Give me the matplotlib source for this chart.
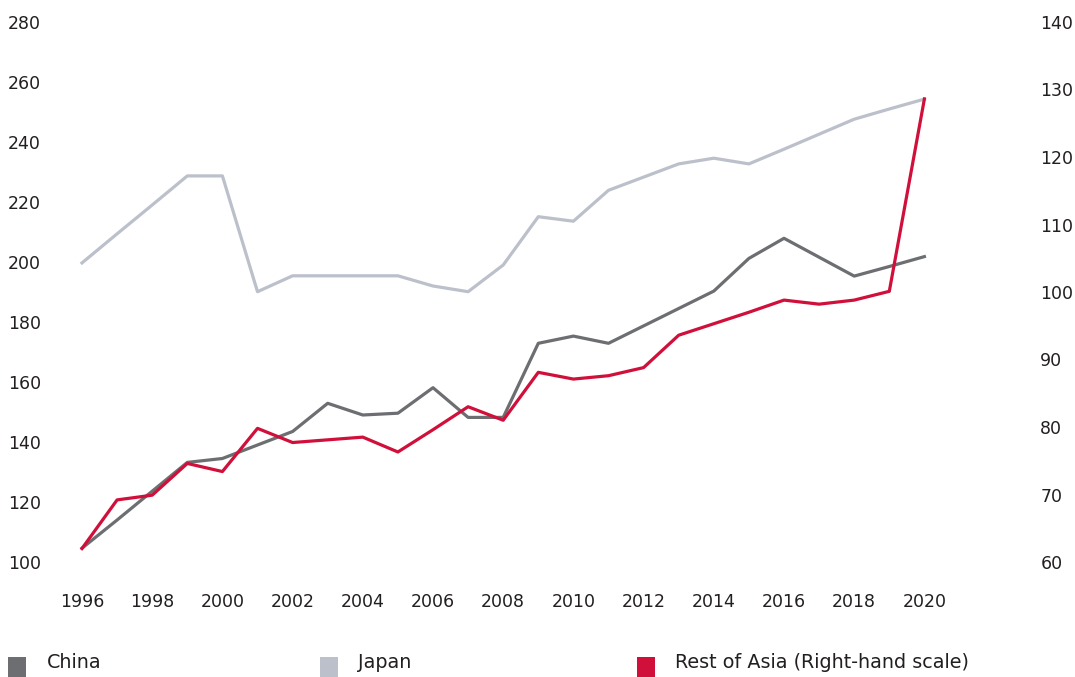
import matplotlib
matplotlib.use("Agg")
import matplotlib.pyplot as plt
from matplotlib.patches import Rectangle

plt.rcParams['font.family'] = ['DejaVu Sans']

years = list(range(1996, 2021))
china = [104.6, 114, 123.6, 133.2, 134.5, 139, 143.5, 152.9, 149, 149.6, 158.1, 148.2, 148.2,
         172.9, 175.3, 172.9, 178.7, 184.5, 190.3, 201.2, 207.9, 201.6, 195.3, 198.5, 201.8]
japan = [199.7, 209.4, 219, 228.7, 228.7, 190.1, 195.4, 195.4, 195.4, 195.4, 192, 190.1, 199,
         215.1, 213.6, 223.9, 228.3, 232.7, 234.6, 232.7, 237.6, 242.6, 247.6, 251, 254.3]
rest_of_asia = [62.0, 69.2, 69.9, 74.6, 73.4, 79.8, 77.7, 78.1, 78.5, 76.3, 79.6, 83.0, 81.0,
                88.1, 87.1, 87.6, 88.8, 93.6, 95.3, 97.0, 98.8, 98.2, 98.8, 100.1, 128.6]

xticks = list(range(1996, 2021, 2))
left_ticks = list(range(100, 281, 20))
right_ticks = list(range(60, 141, 10))

c_china = '#6d6e71'
c_japan = '#bcc0cb'
c_rest = '#d0103a'
txt = '#231f20'

W, H = 1075, 677
fig = plt.figure(figsize=(W / 100, H / 100), dpi=100)
# axes box in pixels: x 55..1000, y 22..562
ax = fig.add_axes([55 / W, 1 - 562 / H, (1000 - 55) / W, (562 - 22) / H])
ax2 = ax.twinx()

ax.plot(years, japan, color=c_japan, lw=2.3, zorder=2)
ax.plot(years, china, color=c_china, lw=2.3, zorder=3)
ax2.plot(years, rest_of_asia, color=c_rest, lw=2.3, zorder=4)

px_per_year = 35.1
ax.set_xlim(1996 - 27 / px_per_year, 1996 + (1000 - 82) / px_per_year)
ax.set_ylim(100, 280)
ax2.set_ylim(60, 140)

ax.set_xticks(xticks)
ax.set_xticklabels([str(y) for y in xticks])
ax.set_yticks(left_ticks)
ax2.set_yticks(right_ticks)

for a in (ax, ax2):
    for s in a.spines.values():
        s.set_visible(False)
ax.tick_params(axis='x', length=0, pad=22, labelsize=12.5, colors=txt)
ax.tick_params(axis='y', length=0, pad=10, labelsize=12.5, colors=txt)
ax2.tick_params(axis='y', length=0, pad=29, labelsize=12.5, colors=txt)

# legend along the bottom edge
legend_items = [('China', c_china, 8, 47), ('Japan', c_japan, 320, 358),
                ('Rest of Asia (Right-hand scale)', c_rest, 637, 675)]
for name, col, sx, tx in legend_items:
    fig.add_artist(Rectangle((sx / W, 0), 18 / W, 20 / H, transform=fig.transFigure,
                             color=col, lw=0))
    fig.text(tx / W, 1 - 663 / H, name, fontsize=13.8, color=txt, va='center', ha='left')

fig.savefig('out.png', dpi=100)
